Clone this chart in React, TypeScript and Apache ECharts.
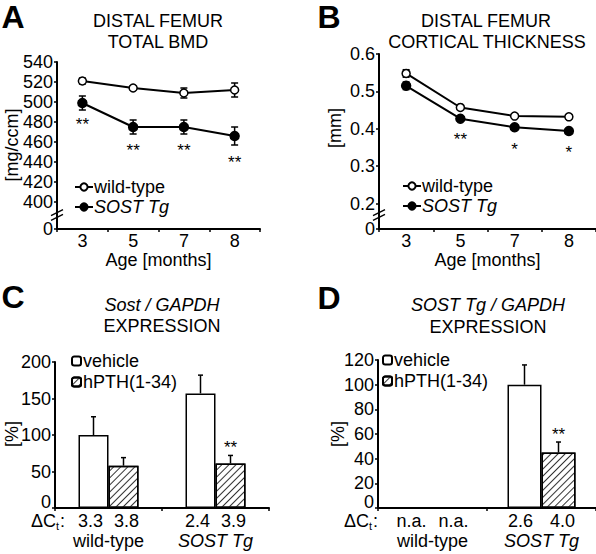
import React, { useEffect, useRef } from 'react';
import * as echarts from 'echarts';

// ---------- data ----------
const ages = ['3', '5', '7', '8'];

// Panel A: distal femur total BMD [mg/ccm]
const wtBMD = [521, 514, 509, 512];
const wtBMDErr = [3, 2, 5, 7];
const tgBMD = [499, 475, 475, 466];
const tgBMDErr = [7, 7, 7, 9];
const bmdStars = ['**', '**', '**', '**'];
const bmdStarY = [482, 456, 456, 444];
const bmdZero = 373; // axis break: shown as "0"
const bmdTicks = [400, 420, 440, 460, 480, 500, 520, 540];

// Panel B: distal femur cortical thickness [mm]
const wtCt = [0.548, 0.457, 0.434, 0.432];
const wtCtErr = [0.01, 0.005, 0.005, 0.006];
const tgCt = [0.515, 0.427, 0.404, 0.394];
const tgCtErr = [0.01, 0.006, 0.006, 0.007];
const ctStars = ['', '**', '*', '*'];
const ctStarY = [null, 0.382, 0.355, 0.348];
const ctZero = 0.132; // axis break: shown as "0"
const ctTicks = [0.2, 0.3, 0.4, 0.5, 0.6];

// Panel C: Sost / GAPDH expression [%]
const groups = ['wild-type', 'SOST Tg'];
const sostVehicle = [100, 157];
const sostVehicleErr = [25, 25];
const sostPTH = [58, 61];
const sostPTHErr = [11, 11];
const sostDct = [['3.3', '3.8'], ['2.4', '3.9']];
const sostStars = ['', '**'];
const sostStarY = [null, 89];

// Panel D: SOST Tg / GAPDH expression [%]
const tgVehicle = [null, 100];
const tgVehicleErr = [null, 16];
const tgPTH = [null, 45];
const tgPTHErr = [null, 8.5];
const tgDct = [['n.a.', 'n.a.'], ['2.6', '4.0']];
const tgStars = ['', '**'];
const tgStarY = [null, 63];

// ---------- helpers ----------
const FONT = "'Liberation Sans', Arial, Helvetica, sans-serif";
const FS = 18;
const BLACK = '#000';

const errBars = (offset: number, cap: number, upOnly: boolean) => (_p: any, api: any) => {
  const i = api.value(0);
  const m = api.value(1);
  const e = api.value(2);
  const top = api.coord([i, m + e]);
  const bot = api.coord([i, upOnly ? m : m - e]);
  const cx = top[0] + offset;
  const st = { stroke: BLACK, lineWidth: 1.5 };
  const ch: any[] = [
    { type: 'line', shape: { x1: cx, y1: top[1], x2: cx, y2: bot[1] }, style: st },
    { type: 'line', shape: { x1: cx - cap, y1: top[1], x2: cx + cap, y2: top[1] }, style: st },
  ];
  if (!upOnly) ch.push({ type: 'line', shape: { x1: cx - cap, y1: bot[1], x2: cx + cap, y2: bot[1] }, style: st });
  return { type: 'group', children: ch };
};

const starText = (labels: string[], offset: number) => (_p: any, api: any) => {
  const i = api.value(0);
  const p = api.coord([i, api.value(1)]);
  return {
    type: 'text',
    x: p[0] + offset,
    y: p[1] + 4,
    style: { text: labels[i], fill: BLACK, fontSize: 17, fontFamily: FONT, align: 'center', verticalAlign: 'middle' },
  };
};

const errData = (m: (number | null)[], e: (number | null)[]) =>
  m.map((v, i) => [i, v, e[i]]).filter((d) => d[1] != null);
const starData = (y: (number | null)[]) => y.map((v, i) => [i, v]).filter((d) => d[1] != null);

const txt = (text: string, x: number, y: number, extra: any = {}) => ({
  type: 'text',
  x,
  y,
  z: 100,
  style: { text, fill: BLACK, fontSize: FS, fontFamily: FONT, align: 'center', verticalAlign: 'middle', ...extra },
});

const breakMark = (x: number, y: number) => ({
  type: 'group',
  z: 100,
  children: [
    { type: 'polygon', shape: { points: [[x - 6, y + 3.6], [x + 6, y - 2.4], [x + 6, y + 2.4], [x - 6, y + 8.4]] }, style: { fill: '#fff' } },
    { type: 'line', shape: { x1: x - 6, y1: y + 3.6, x2: x + 6, y2: y - 2.4 }, style: { stroke: BLACK, lineWidth: 1.5 } },
    { type: 'line', shape: { x1: x - 6, y1: y + 8.4, x2: x + 6, y2: y + 2.4 }, style: { stroke: BLACK, lineWidth: 1.5 } },
  ],
});

const deltaCt = (xEnd: number, y: number) => ({
  type: 'group',
  z: 100,
  children: [
    { type: 'text', x: xEnd - 9, y, style: { text: 'ΔC', fill: BLACK, fontSize: FS, lineHeight: 13, fontFamily: FONT, align: 'right', verticalAlign: 'middle' } },
    { type: 'text', x: xEnd - 9, y: y + 5, style: { text: 't', fill: BLACK, fontSize: 11, lineHeight: 9, fontFamily: FONT, align: 'left', verticalAlign: 'middle' } },
    { type: 'text', x: xEnd - 5, y, style: { text: ':', fill: BLACK, fontSize: FS, lineHeight: 13, fontFamily: FONT, align: 'left', verticalAlign: 'middle' } },
  ],
});

const axisLine = { show: true, onZero: false, lineStyle: { color: BLACK, width: 2 } };
const labelStyle = { color: BLACK, fontSize: FS, fontFamily: FONT };

const lineLegend = (left: number, top: number) => ({
  data: ['wild-type', 'SOST Tg'],
  left,
  top,
  orient: 'vertical',
  itemWidth: 18,
  itemHeight: 9,
  itemGap: 2,
  padding: 0,
  selectedMode: false,
  formatter: (n: string) => (n === 'SOST Tg' ? '{i|SOST Tg}' : n),
  textStyle: { ...labelStyle, lineHeight: 17, padding: [0, 0, 0, -4], rich: { i: { ...labelStyle, lineHeight: 17, fontStyle: 'italic' } } },
});

const barLegend = (left: number, top: number) => ({
  data: ['vehicle', 'hPTH(1-34)'],
  left,
  top,
  orient: 'vertical',
  itemWidth: 9,
  itemHeight: 9,
  itemGap: 3,
  padding: 0,
  selectedMode: false,
  textStyle: { ...labelStyle, lineHeight: 18, padding: [0, 0, 0, -3] },
});

const hatch = {
  symbol: 'rect',
  symbolSize: 1,
  color: '#333',
  backgroundColor: '#fff',
  dashArrayX: [1, 0],
  dashArrayY: [1, 3.6],
  rotation: -Math.PI / 4,
};

const catLabel = (dct: string[][], w: number) => ({
  ...labelStyle,
  margin: 3,
  interval: 0,
  lineHeight: 20,
  formatter: (value: string, index: number) =>
    `{v|${dct[index][0]}}{v|${dct[index][1]}}\n{${value === 'SOST Tg' ? 'i' : 'n'}|${value}}`,
  rich: {
    v: { ...labelStyle, width: w, align: 'center', lineHeight: 20 },
    n: { ...labelStyle, lineHeight: 20 },
    i: { ...labelStyle, fontStyle: 'italic', lineHeight: 20 },
  },
});

export default function App() {
  const ref = useRef<HTMLDivElement>(null);
  useEffect(() => {
    if (!ref.current) return;
    const chart = echarts.init(ref.current, null, { renderer: 'svg' });
    const lineMarker = (filled: boolean) => ({
      color: filled ? BLACK : '#fff',
      borderColor: BLACK,
      borderWidth: 1.5,
    });
    const tick = { show: true, length: 3, lineStyle: { color: BLACK, width: 1.5 } };
    const barYLabel = {
      ...labelStyle, margin: 4, showMinLabel: true, showMaxLabel: true, hideOverlap: false,
      verticalAlignMinLabel: 'bottom', lineHeight: 12,
    };
    const option: any = {
      animation: false,
      backgroundColor: '#fff',
      textStyle: { fontFamily: FONT },
      grid: [
        { left: 57, top: 62, width: 203, height: 167 },
        { left: 379, top: 54, width: 217, height: 175 },
        { left: 55, top: 362, width: 214, height: 146 },
        { left: 378, top: 360, width: 218, height: 148 },
      ],
      xAxis: [
        {
          gridIndex: 0, type: 'category', data: ages, boundaryGap: true, axisLine, axisTick: tick,
          axisLabel: { ...labelStyle, margin: 3 },
          name: 'Age [months]', nameLocation: 'middle', nameGap: 20, nameTextStyle: labelStyle,
        },
        {
          gridIndex: 1, type: 'category', data: ages, boundaryGap: true, axisLine, axisTick: tick,
          axisLabel: { ...labelStyle, margin: 3 },
          name: 'Age [months]', nameLocation: 'middle', nameGap: 20, nameTextStyle: labelStyle,
        },
        {
          gridIndex: 2, type: 'category', data: groups, boundaryGap: true, axisLine, axisTick: tick,
          axisLabel: catLabel(sostDct, 36),
        },
        {
          gridIndex: 3, type: 'category', data: groups, boundaryGap: true, axisLine, axisTick: tick,
          axisLabel: catLabel(tgDct, 42),
        },
      ],
      yAxis: [
        {
          gridIndex: 0, type: 'value', min: bmdZero, max: 540, axisLine, splitLine: { show: false },
          axisTick: { ...tick, customValues: [bmdZero, ...bmdTicks] },
          axisLabel: {
            ...labelStyle, margin: 4, customValues: [bmdZero, ...bmdTicks],
            formatter: (v: number) => (v === bmdZero ? '0' : String(v)),
          },
        },
        {
          gridIndex: 1, type: 'value', min: ctZero, max: 0.6, axisLine, splitLine: { show: false },
          axisTick: { ...tick, customValues: [ctZero, ...ctTicks] },
          axisLabel: {
            ...labelStyle, margin: 4, customValues: [ctZero, ...ctTicks],
            formatter: (v: number) => (v < 0.15 ? '0' : v.toFixed(1)),
          },
        },
        {
          gridIndex: 2, type: 'value', min: 0, max: 200, interval: 50, axisLine, splitLine: { show: false },
          axisTick: tick, axisLabel: barYLabel,
        },
        {
          gridIndex: 3, type: 'value', min: 0, max: 120, interval: 20, axisLine, splitLine: { show: false },
          axisTick: tick, axisLabel: barYLabel,
        },
      ],
      legend: [lineLegend(74, 178), lineLegend(402, 177), barLegend(71, 352), barLegend(382, 351)],
      series: [
        // Panel A
        { type: 'custom', xAxisIndex: 0, yAxisIndex: 0, z: 1, silent: true, renderItem: errBars(0, 3.5, false), data: errData(wtBMD, wtBMDErr) },
        { type: 'custom', xAxisIndex: 0, yAxisIndex: 0, z: 1, silent: true, renderItem: errBars(0, 3.5, false), data: errData(tgBMD, tgBMDErr) },
        {
          name: 'wild-type', type: 'line', xAxisIndex: 0, yAxisIndex: 0, z: 3, data: wtBMD,
          symbol: 'circle', symbolSize: 8, lineStyle: { color: BLACK, width: 2 }, itemStyle: lineMarker(false),
        },
        {
          name: 'SOST Tg', type: 'line', xAxisIndex: 0, yAxisIndex: 0, z: 3, data: tgBMD,
          symbol: 'circle', symbolSize: 9, lineStyle: { color: BLACK, width: 2 }, itemStyle: lineMarker(true),
        },
        { type: 'custom', xAxisIndex: 0, yAxisIndex: 0, z: 4, silent: true, renderItem: starText(bmdStars, 0), data: starData(bmdStarY) },
        // Panel B
        { type: 'custom', xAxisIndex: 1, yAxisIndex: 1, z: 1, silent: true, renderItem: errBars(0, 3.5, false), data: errData(wtCt, wtCtErr) },
        { type: 'custom', xAxisIndex: 1, yAxisIndex: 1, z: 1, silent: true, renderItem: errBars(0, 3.5, false), data: errData(tgCt, tgCtErr) },
        {
          name: 'wild-type', type: 'line', xAxisIndex: 1, yAxisIndex: 1, z: 3, data: wtCt,
          symbol: 'circle', symbolSize: 8, lineStyle: { color: BLACK, width: 2 }, itemStyle: lineMarker(false),
        },
        {
          name: 'SOST Tg', type: 'line', xAxisIndex: 1, yAxisIndex: 1, z: 3, data: tgCt,
          symbol: 'circle', symbolSize: 9, lineStyle: { color: BLACK, width: 2 }, itemStyle: lineMarker(true),
        },
        { type: 'custom', xAxisIndex: 1, yAxisIndex: 1, z: 4, silent: true, renderItem: starText(ctStars, 0), data: starData(ctStarY) },
        // Panel C
        {
          name: 'vehicle', type: 'bar', xAxisIndex: 2, yAxisIndex: 2, data: sostVehicle, barWidth: 30, barGap: '0%', z: 3,
          itemStyle: { color: '#fff', borderColor: BLACK, borderWidth: 1.5 },
        },
        {
          name: 'hPTH(1-34)', type: 'bar', xAxisIndex: 2, yAxisIndex: 2, data: sostPTH, barWidth: 30, barGap: '0%', z: 3,
          itemStyle: { color: '#fff', borderColor: BLACK, borderWidth: 1.5, decal: hatch },
        },
        { type: 'custom', xAxisIndex: 2, yAxisIndex: 2, z: 2, silent: true, renderItem: errBars(-15, 2.5, true), data: errData(sostVehicle, sostVehicleErr) },
        { type: 'custom', xAxisIndex: 2, yAxisIndex: 2, z: 2, silent: true, renderItem: errBars(15, 2.5, true), data: errData(sostPTH, sostPTHErr) },
        { type: 'custom', xAxisIndex: 2, yAxisIndex: 2, z: 4, silent: true, renderItem: starText(sostStars, 15), data: starData(sostStarY) },
        // Panel D
        {
          name: 'vehicle', type: 'bar', xAxisIndex: 3, yAxisIndex: 3, data: tgVehicle, barWidth: 34, barGap: '0%', z: 3,
          itemStyle: { color: '#fff', borderColor: BLACK, borderWidth: 1.5 },
        },
        {
          name: 'hPTH(1-34)', type: 'bar', xAxisIndex: 3, yAxisIndex: 3, data: tgPTH, barWidth: 34, barGap: '0%', z: 3,
          itemStyle: { color: '#fff', borderColor: BLACK, borderWidth: 1.5, decal: hatch },
        },
        { type: 'custom', xAxisIndex: 3, yAxisIndex: 3, z: 2, silent: true, renderItem: errBars(-17, 2.5, true), data: errData(tgVehicle, tgVehicleErr) },
        { type: 'custom', xAxisIndex: 3, yAxisIndex: 3, z: 2, silent: true, renderItem: errBars(17, 2.5, true), data: errData(tgPTH, tgPTHErr) },
        { type: 'custom', xAxisIndex: 3, yAxisIndex: 3, z: 4, silent: true, renderItem: starText(tgStars, 17), data: starData(tgStarY) },
      ],
      graphic: [
        // panel letters
        txt('A', 13, 17, { fontSize: 32, fontWeight: 'bold' }),
        txt('B', 329, 17, { fontSize: 32, fontWeight: 'bold' }),
        txt('C', 13, 297, { fontSize: 32, fontWeight: 'bold' }),
        txt('D', 329, 298, { fontSize: 32, fontWeight: 'bold' }),
        // titles
        txt('DISTAL FEMUR', 158, 21),
        txt('TOTAL BMD', 158, 42),
        txt('DISTAL FEMUR', 486, 21),
        txt('CORTICAL THICKNESS', 487, 42),
        txt('Sost / GAPDH', 162, 305, { fontStyle: 'italic' }),
        txt('EXPRESSION', 162, 326),
        txt('SOST Tg / GAPDH', 488, 305, { fontStyle: 'italic' }),
        txt('EXPRESSION', 488, 327),
        // y-axis names
        { ...txt('[mg/ccm]', 12, 145), rotation: Math.PI / 2 },
        { ...txt('[mm]', 335, 128), rotation: Math.PI / 2 },
        { ...txt('[%]', 12, 434), rotation: Math.PI / 2 },
        { ...txt('[%]', 338, 434), rotation: Math.PI / 2 },
        // axis breaks
        breakMark(57, 212),
        breakMark(379, 212),
        // delta Ct row labels
        deltaCt(65, 521),
        deltaCt(378, 521),
      ],
    };
    chart.setOption(option);
    return () => chart.dispose();
  }, []);
  return (
    <div
      ref={ref}
      style={{ position: 'absolute', left: 0, top: 0, width: 596, height: 554, background: '#fff' }}
    />
  );
}
